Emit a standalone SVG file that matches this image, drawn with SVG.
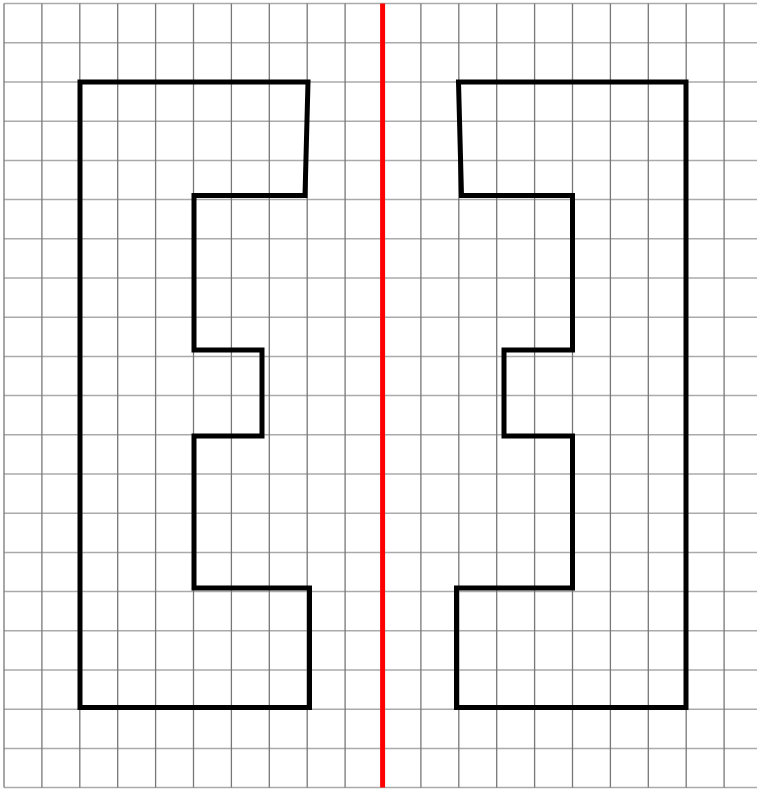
<svg xmlns="http://www.w3.org/2000/svg" width="757" height="789" viewBox="0 0 757 789">
<style>
.v{stroke:#777;stroke-width:1.3}
.h{stroke:#aaa;stroke-width:1.5}
.shape{fill:none;stroke:#000;stroke-width:5;stroke-linejoin:miter}
.axis{stroke:#ff0000;stroke-width:5}
</style>
<rect width="757" height="789" fill="#fff"/>
<g id="grid">
<g id="hlines">
<line class="h" x1="4" y1="3.6" x2="757" y2="3.6"/>
<line class="h" x1="4" y1="42.8" x2="757" y2="42.8"/>
<line class="h" x1="4" y1="82" x2="757" y2="82"/>
<line class="h" x1="4" y1="121.2" x2="757" y2="121.2"/>
<line class="h" x1="4" y1="160.4" x2="757" y2="160.4"/>
<line class="h" x1="4" y1="199.6" x2="757" y2="199.6"/>
<line class="h" x1="4" y1="238.8" x2="757" y2="238.8"/>
<line class="h" x1="4" y1="278" x2="757" y2="278"/>
<line class="h" x1="4" y1="317.2" x2="757" y2="317.2"/>
<line class="h" x1="4" y1="356.4" x2="757" y2="356.4"/>
<line class="h" x1="4" y1="395.6" x2="757" y2="395.6"/>
<line class="h" x1="4" y1="434.8" x2="757" y2="434.8"/>
<line class="h" x1="4" y1="474" x2="757" y2="474"/>
<line class="h" x1="4" y1="513.2" x2="757" y2="513.2"/>
<line class="h" x1="4" y1="552.4" x2="757" y2="552.4"/>
<line class="h" x1="4" y1="591.6" x2="757" y2="591.6"/>
<line class="h" x1="4" y1="630.8" x2="757" y2="630.8"/>
<line class="h" x1="4" y1="670" x2="757" y2="670"/>
<line class="h" x1="4" y1="709.2" x2="757" y2="709.2"/>
<line class="h" x1="4" y1="748.4" x2="757" y2="748.4"/>
<line class="h" x1="4" y1="787.6" x2="757" y2="787.6"/>
</g>
<g id="vlines">
<line class="v" x1="4" y1="3.6" x2="4" y2="787.6"/>
<line class="v" x1="41.9" y1="3.6" x2="41.9" y2="787.6"/>
<line class="v" x1="79.8" y1="3.6" x2="79.8" y2="787.6"/>
<line class="v" x1="117.7" y1="3.6" x2="117.7" y2="787.6"/>
<line class="v" x1="155.6" y1="3.6" x2="155.6" y2="787.6"/>
<line class="v" x1="193.5" y1="3.6" x2="193.5" y2="787.6"/>
<line class="v" x1="231.4" y1="3.6" x2="231.4" y2="787.6"/>
<line class="v" x1="269.3" y1="3.6" x2="269.3" y2="787.6"/>
<line class="v" x1="307.2" y1="3.6" x2="307.2" y2="787.6"/>
<line class="v" x1="345.1" y1="3.6" x2="345.1" y2="787.6"/>
<line class="v" x1="420.9" y1="3.6" x2="420.9" y2="787.6"/>
<line class="v" x1="458.8" y1="3.6" x2="458.8" y2="787.6"/>
<line class="v" x1="496.7" y1="3.6" x2="496.7" y2="787.6"/>
<line class="v" x1="534.6" y1="3.6" x2="534.6" y2="787.6"/>
<line class="v" x1="572.5" y1="3.6" x2="572.5" y2="787.6"/>
<line class="v" x1="610.4" y1="3.6" x2="610.4" y2="787.6"/>
<line class="v" x1="648.3" y1="3.6" x2="648.3" y2="787.6"/>
<line class="v" x1="686.2" y1="3.6" x2="686.2" y2="787.6"/>
<line class="v" x1="724.1" y1="3.6" x2="724.1" y2="787.6"/>
</g>
</g>
<g id="axis">
<line class="axis" x1="382.6" y1="3.6" x2="382.6" y2="787.6"/>
</g>
<g id="left-shape">
<polygon class="shape" points="80,82 308,82 305,195.5 194,195.5 194,350 262,350 262,436 194,436 194,588 309.5,588 309.5,707.5 80,707.5"/>
</g>
<g id="right-shape">
<polygon class="shape" points="686,82 458.5,82 461.5,195.5 572.5,195.5 572.5,350 504,350 504,436 572.5,436 572.5,588 456.5,588 456.5,707.5 686,707.5"/>
</g>
</svg>
